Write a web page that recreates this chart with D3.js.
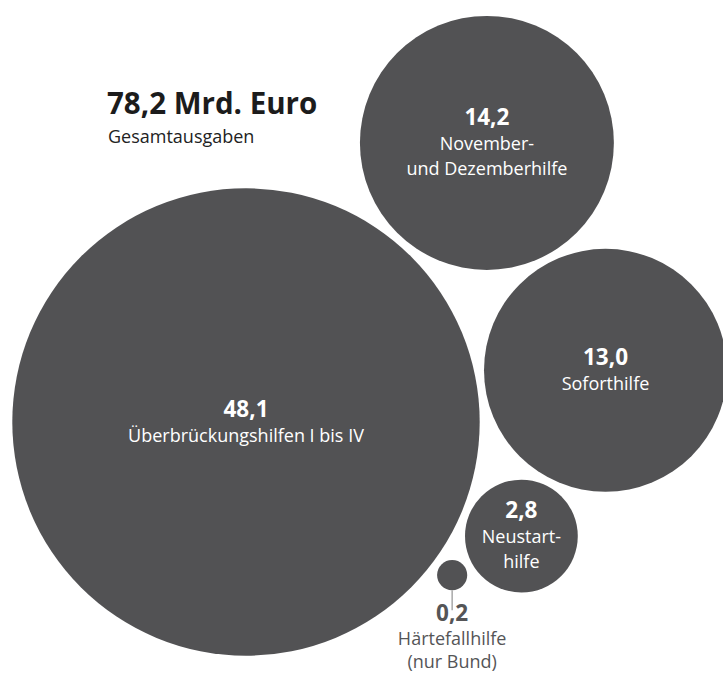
<!DOCTYPE html>
<html><head><meta charset="utf-8">
<script src="https://cdn.jsdelivr.net/npm/d3@7"></script>
<style>html,body{margin:0;padding:0;background:#fff;}svg{display:block;}</style>
</head><body>
<svg id="chart" width="723" height="674"></svg>
<script>
// ---- data ----
const categories = ["Überbrückungshilfen I bis IV", "November- und Dezemberhilfe", "Soforthilfe", "Neustarthilfe", "Härtefallhilfe (nur Bund)"];
const values = [48.1, 14.2, 13.0, 2.8, 0.2];
const valueLabels = ["48,1", "14,2", "13,0", "2,8", "0,2"];
const labelLines = [["Überbrückungshilfen I bis IV"], ["November-", "und Dezemberhilfe"], ["Soforthilfe"], ["Neustart-", "hilfe"], ["Härtefallhilfe", "(nur Bund)"]];
const totalLabel = "78,2 Mrd. Euro";
const totalSub = "Gesamtausgaben";

// ---- layout ----
const svg = d3.select("#chart");
const fill = "#525254";
const font = "'Open Sans', Lato, sans-serif";
const r = d3.scaleSqrt().domain([0, d3.max(values)]).range([0, 233.7]);
const gap = 8;

function tangent(a, b, rn, pick) {
  const d1 = a.r + rn + gap, d2 = b.r + rn + gap;
  const dx = b.x - a.x, dy = b.y - a.y, d = Math.hypot(dx, dy);
  const aa = (d1 * d1 - d2 * d2 + d * d) / (2 * d);
  const h = Math.sqrt(Math.max(0, d1 * d1 - aa * aa));
  const bx = a.x + aa * dx / d, by = a.y + aa * dy / d;
  const p1 = {x: bx - h * dy / d, y: by + h * dx / d};
  const p2 = {x: bx + h * dy / d, y: by - h * dx / d};
  return pick(p1, p2);
}

const nodes = values.map((v, i) => ({i, v, r: r(v)}));
// anchor the largest circle, chain the others tangentially
nodes[0].x = 246; nodes[0].y = 422;
const ang = -49.2 * Math.PI / 180;
const dist01 = nodes[0].r + nodes[1].r + gap;
nodes[1].x = nodes[0].x + dist01 * Math.cos(ang);
nodes[1].y = nodes[0].y + dist01 * Math.sin(ang);
Object.assign(nodes[2], tangent(nodes[0], nodes[1], nodes[2].r, (p, q) => p.x > q.x ? p : q));
Object.assign(nodes[3], tangent(nodes[0], nodes[2], nodes[3].r, (p, q) => p.y > q.y ? p : q));
Object.assign(nodes[4], tangent(nodes[0], nodes[3], nodes[4].r, (p, q) => p.y > q.y ? p : q));

svg.selectAll("circle.bubble").data(nodes).join("circle")
  .attr("class", "bubble")
  .attr("cx", d => d.x).attr("cy", d => d.y).attr("r", d => d.r)
  .attr("fill", fill);

// labels inside big bubbles
const lh = 25;
nodes.slice(0, 4).forEach(d => {
  const lines = [valueLabels[d.i]].concat(labelLines[d.i]);
  const n = lines.length;
  const t = svg.append("text").attr("text-anchor", "middle").attr("fill", "#fff").attr("font-family", font);
  lines.forEach((s, k) => {
    t.append("tspan").attr("x", d.x).attr("y", d.y + (k - (n - 1) / 2) * lh + 7)
      .attr("font-size", k === 0 ? 22.5 : 18)
      .attr("font-weight", k === 0 ? 700 : 400)
      .text(s);
  });
});

// small bubble: external label with connector
const s = nodes[4];
svg.append("line").attr("x1", s.x).attr("x2", s.x).attr("y1", s.y + s.r).attr("y2", s.y + s.r + 20)
  .attr("stroke", "#a8a8a8").attr("stroke-width", 1.5);
const st = svg.append("text").attr("text-anchor", "middle").attr("fill", "#555557").attr("font-family", font);
st.append("tspan").attr("x", s.x).attr("y", 621).attr("font-size", 22.5).attr("font-weight", 700).text(valueLabels[4]);
labelLines[4].forEach((l, k) => {
  st.append("tspan").attr("x", s.x).attr("y", 645 + k * 23).attr("font-size", 18).text(l);
});

// total
svg.append("text").attr("x", 107).attr("y", 114).attr("font-family", font).attr("font-weight", 700)
  .attr("font-size", 29.5).attr("fill", "#1c1c1c").text(totalLabel);
svg.append("text").attr("x", 108).attr("y", 143).attr("font-family", font)
  .attr("font-size", 18).attr("fill", "#222").text(totalSub);
</script>
</body></html>
